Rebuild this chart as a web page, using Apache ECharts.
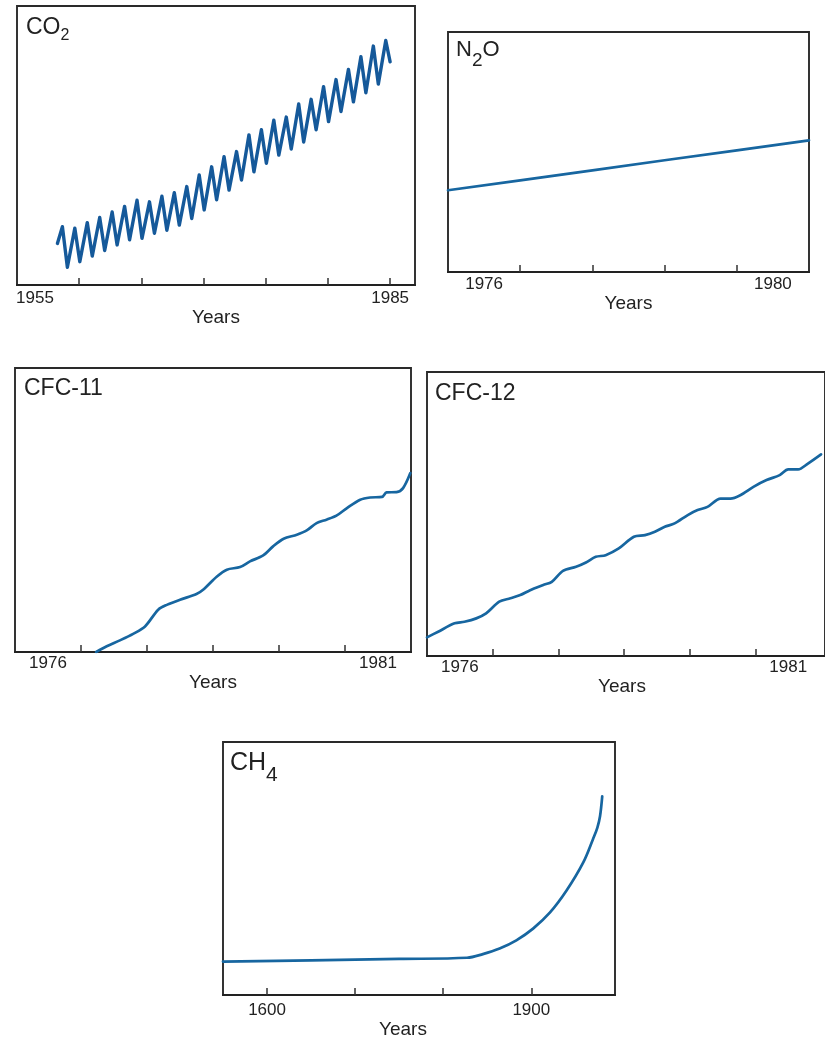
<!DOCTYPE html>
<html><head><meta charset="utf-8">
<script src="https://cdn.jsdelivr.net/npm/echarts@6/dist/echarts.min.js"></script>
<style>html,body{margin:0;padding:0;background:#fff}#c{width:825px;height:1040px}</style>
</head><body><div id="c"></div><script>
// ---------- DATA ----------
const co2Years = [1958.25,1958.65,1959.05,1959.65,1960.05,1960.65,1961.05,1961.65,1962.05,1962.65,1963.05,1963.65,1964.05,1964.65,1965.05,1965.65,1966.05,1966.65,1967.05,1967.65,1968.05,1968.65,1969.05,1969.65,1970.05,1970.65,1971.05,1971.65,1972.05,1972.65,1973.05,1973.65,1974.05,1974.65,1975.05,1975.65,1976.05,1976.65,1977.05,1977.65,1978.05,1978.65,1979.05,1979.65,1980.05,1980.65,1981.05,1981.65,1982.05,1982.65,1983.05,1983.65,1984.05,1984.65,1985.0];
const co2Ppm = [308.2,311.5,303.5,311.2,304.6,312.3,305.7,313.3,306.8,314.4,307.9,315.5,308.9,316.7,309.2,316.4,310.2,317.5,310.8,318.2,311.8,319.4,313.1,321.7,314.8,323.3,316.8,325.3,318.7,326.3,320.7,329.6,322.3,330.6,324.0,332.5,325.6,333.1,326.8,335.7,328.2,336.6,330.6,339.1,332.2,340.5,334.2,342.5,336.1,345.0,337.9,347.1,339.6,348.2,344.0];
const co2TickYears = [1960,1965,1970,1975,1980,1985];
const co2LabelYears = [1955,1985];

const n2oYears = [1976,1977,1978,1979,1980,1981];
const n2oPpb = [297.45,298.11,298.78,299.45,300.11,300.78];
const n2oTickYears = [1977,1978,1979,1980];
const n2oLabelYears = [1976,1980];

const cfc11Years = [1977.23,1977.39,1977.59,1977.79,1977.97,1978.17,1978.30,1978.50,1978.75,1978.85,1979.06,1979.21,1979.41,1979.56,1979.76,1979.91,1980.07,1980.27,1980.42,1980.57,1980.72,1980.87,1981.03,1981.23,1981.38,1981.56,1981.63,1981.78,1981.88,1981.99];
const cfc11Ppt = [120.0,122.0,124.1,126.4,129.0,134.9,136.6,138.4,140.4,141.9,146.6,149.0,149.9,151.9,154.0,157.2,159.9,161.3,162.8,165.4,166.6,168.0,170.7,173.6,174.4,174.6,176.2,176.3,177.7,183.0];
const cfc11TickYears = [1977,1978,1979,1980,1981];
const cfc11LabelYears = [1976,1981];

const cfc12Years = [1976.0,1976.17,1976.42,1976.57,1976.75,1976.90,1977.10,1977.27,1977.42,1977.57,1977.77,1977.90,1978.07,1978.27,1978.42,1978.57,1978.72,1978.92,1979.15,1979.32,1979.47,1979.62,1979.77,1979.97,1980.12,1980.27,1980.47,1980.62,1980.77,1980.97,1981.17,1981.37,1981.50,1981.65,1981.80,1982.0];
const cfc12Ppt = [210.5,213.7,218.4,219.3,221.2,224.0,230.6,232.5,234.3,237.1,240.0,241.8,248.0,250.3,252.7,255.9,256.8,260.6,267.2,268.1,270.0,272.8,274.7,279.4,282.2,284.0,288.7,288.7,290.6,295.3,299.1,301.9,305.1,305.1,308.4,313.6];
const cfc12TickYears = [1977,1978,1979,1980,1981];
const cfc12LabelYears = [1976,1981];

const ch4Years = [1550,1650,1750,1827,1845,1864,1883,1902,1921,1940,1959,1970,1975,1978,1980.5];
const ch4Ppb = [692,699,707,714,735,767,814,881,972,1099,1260,1393,1460,1525,1639];
const ch4TickYears = [1600,1700,1800,1900];
const ch4LabelYears = [1600,1900];

// ---------- LAYOUT / STYLE ----------
const FONT = 'Liberation Sans, Arial, Helvetica, sans-serif';
const INK = '#222';
const panels = [
  {title:'{m|CO}{s|2}', sub:{fontSize:16,lineHeight:16,padding:[16,0,0,0]}, tl:[26,16], main:23,
   grid:{left:17,top:6,width:398,height:279}, x:[1955,1987], y:[300,355],
   xs:co2Years, ys:co2Ppm, ticks:co2TickYears, labels:co2LabelYears, labelShift:0, firstPad:36,
   lw:3.4, color:'#15599a', smooth:false, margin:5, nameGap:21, namePad:[0,0,0,0]},
  {title:'{m|N}{s|2}{m|O}', sub:{fontSize:19,lineHeight:19,padding:[21,0,0,0]}, tl:[456,39], main:22,
   grid:{left:448,top:32,width:361,height:240}, x:[1976,1981], y:[292,308],
   xs:n2oYears, ys:n2oPpb, ticks:n2oTickYears, labels:n2oLabelYears, labelShift:0.5, firstPad:0,
   lw:2.7, color:'#1766a0', smooth:false, margin:4, nameGap:19, namePad:[0,0,0,0]},
  {title:'{m|CFC-11}', sub:null, tl:[24,377], main:23,
   grid:{left:15,top:368,width:396,height:284}, x:[1976,1982], y:[120,220],
   xs:cfc11Years, ys:cfc11Ppt, ticks:cfc11TickYears, labels:cfc11LabelYears, labelShift:0.5, firstPad:0,
   lw:2.7, color:'#1766a0', smooth:0.3, margin:3, nameGap:19, namePad:[0,0,0,0]},
  {title:'{m|CFC-12}', sub:null, tl:[435,382], main:23,
   grid:{left:427,top:372,width:404,height:284}, x:[1976,1982.06], y:[200,360],
   xs:cfc12Years, ys:cfc12Ppt, ticks:cfc12TickYears, labels:cfc12LabelYears, labelShift:0.5, firstPad:0,
   lw:2.7, color:'#1766a0', smooth:0.3, margin:3, nameGap:20, namePad:[0,8,0,0]},
  {title:'{m|CH}{s|4}', sub:{fontSize:21,lineHeight:21,padding:[23,0,0,0]}, tl:[230,751], main:25,
   grid:{left:223,top:742,width:392,height:255}, x:[1550,1995], y:[500,1950],
   xs:ch4Years, ys:ch4Ppb, ticks:ch4TickYears, labels:ch4LabelYears, labelShift:0, firstPad:0,
   lw:2.7, color:'#1766a0', smooth:0.35, margin:7, nameGap:22, namePad:[0,32,0,0]}
];

const option = {
  animation:false,
  backgroundColor:'#fff',
  title:[], grid:[], xAxis:[], yAxis:[], series:[]
};

panels.forEach((p, i) => {
  const rich = {m:{fontFamily:FONT, fontSize:p.main, lineHeight:p.main, color:INK}};
  if (p.sub) rich.s = Object.assign({fontFamily:FONT, color:INK}, p.sub);
  option.title.push({
    text:p.title, left:p.tl[0], top:p.tl[1], padding:0,
    textStyle:{fontFamily:FONT, fontSize:p.main, lineHeight:p.main, fontWeight:'normal', color:INK, rich:rich}
  });
  option.grid.push(Object.assign({show:true, borderColor:'#2a2a2a', borderWidth:1.9, backgroundColor:'transparent', containLabel:false}, p.grid));
  const labelVals = p.labels.map(v => v + p.labelShift);
  option.xAxis.push({
    gridIndex:i, type:'value', min:p.x[0], max:p.x[1],
    axisLine:{show:true, onZero:false, lineStyle:{color:INK, width:2.2}},
    axisTick:{show:true, inside:true, length:7, customValues:p.ticks, lineStyle:{color:'#333', width:1.5}},
    axisLabel:{
      show:true, customValues:labelVals, margin:p.margin,
      fontFamily:FONT, fontSize:17, color:INK,
      formatter:(v) => {
        const yr = String(Math.floor(v));
        return (p.firstPad && Math.floor(v) === p.labels[0]) ? '{f|' + yr + '}' : yr;
      },
      rich:{f:{fontFamily:FONT, fontSize:17, color:INK, padding:[0,0,0,p.firstPad]}}
    },
    splitLine:{show:false},
    name:'Years', nameLocation:'middle', nameGap:p.nameGap,
    nameTextStyle:{fontFamily:FONT, fontSize:19, color:INK, padding:p.namePad}
  });
  option.yAxis.push({gridIndex:i, type:'value', min:p.y[0], max:p.y[1], show:false, splitLine:{show:false}});
  option.series.push({
    type:'line', xAxisIndex:i, yAxisIndex:i, showSymbol:false, symbol:'none',
    smooth:p.smooth, clip:true,
    lineStyle:{color:p.color, width:p.lw, join:'round', cap:'round'},
    data:p.xs.map((x, k) => [x, p.ys[k]])
  });
});

const chart = echarts.init(document.getElementById('c'), null, {renderer:'canvas'});
chart.setOption(option);
</script></body></html>
